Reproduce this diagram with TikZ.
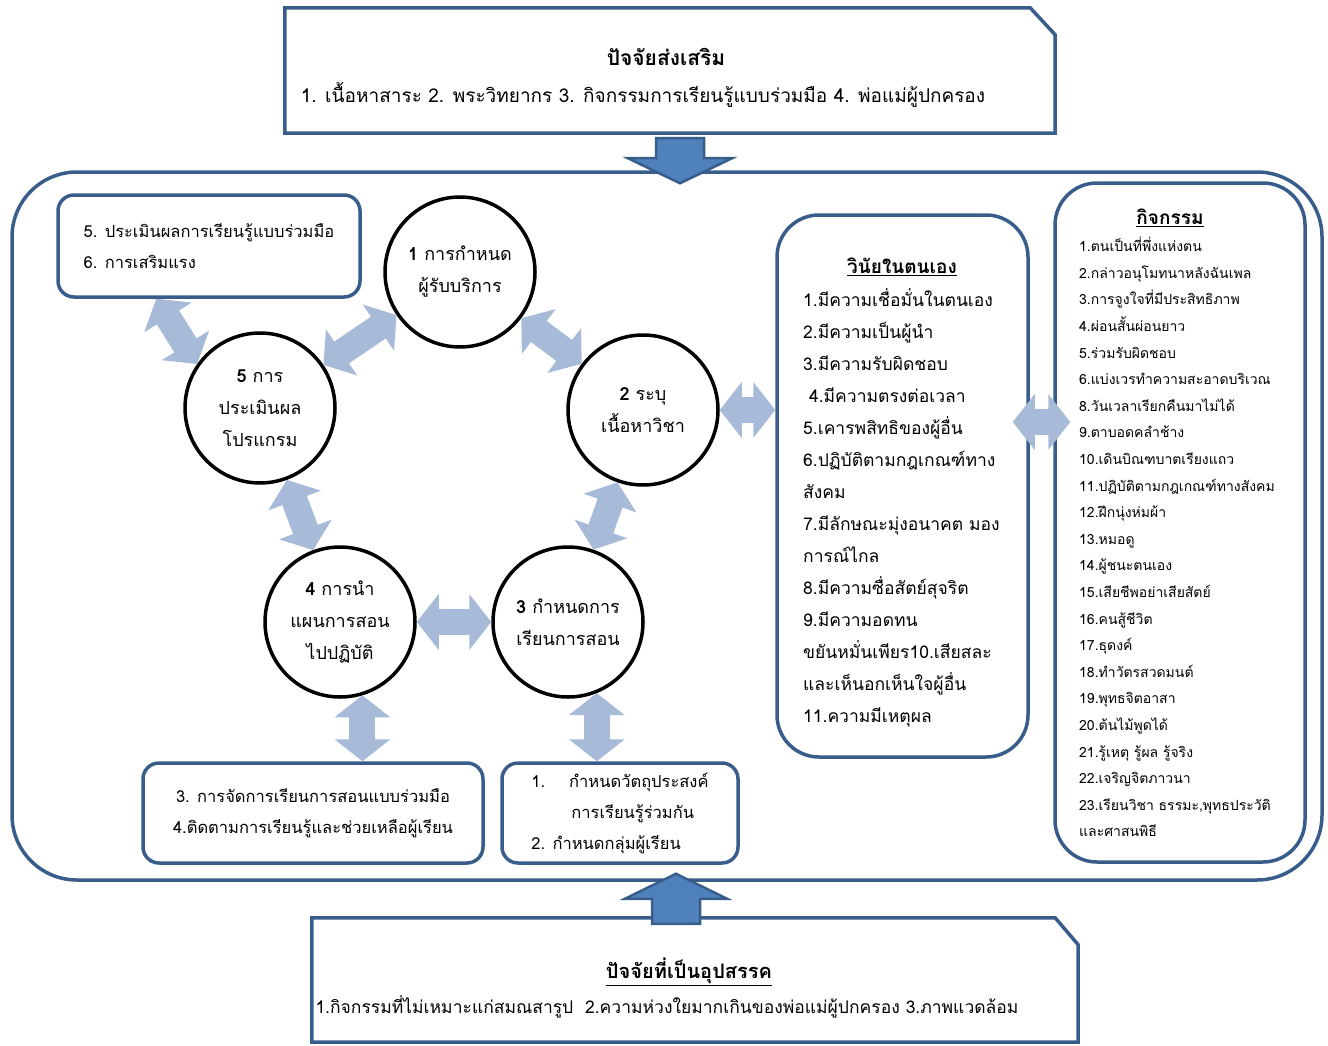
\documentclass[tikz,border=0pt]{standalone}
\usepackage{fontspec}
\newfontfamily\thaifont[Script=Thai]{Loma}
\usepackage{tikz}
\usetikzlibrary{arrows.meta,positioning}
\definecolor{corborda}{RGB}{56,93,138}
\definecolor{corbloco}{RGB}{79,129,189}
\definecolor{corseta}{RGB}{167,186,216}

\begin{document}
\begin{tikzpicture}[
  x=1pt, y=-1pt,
  anelfmt/.style={draw=corborda, line width=3.5pt, rounded corners=65pt,
                  minimum width=1310pt, minimum height=708pt},
  quadro/.style={draw=corborda, line width=3.5pt, rounded corners=16pt, fill=white,
                 inner sep=0pt, font=\thaifont\fontsize{16.5}{31}\selectfont},
  coluna/.style={draw=corborda, line width=3.5pt, rounded corners=42pt, fill=white},
  fator/.style={minimum width=770pt, minimum height=125pt, inner sep=0pt},
  borda/.style={draw=corborda, line width=3.5pt},
  etapa/.style={circle, draw=black, line width=3.5pt, minimum size=150pt, fill=white,
                inner sep=0pt, align=center, font=\thaifont\fontsize{18}{32}\selectfont},
  titulo/.style={inner sep=0pt, font=\thaifont\bfseries\fontsize{19}{24}\selectfont},
  lista/.style={inner sep=0pt, align=left},
  setadupla/.style={draw=corseta, line width=26pt,
                    {Triangle[length=22pt,width=56pt,line width=0pt]}-{Triangle[length=22pt,width=56pt,line width=0pt]},
                    postaction={draw=corseta, line width=26pt, -, shorten <=18pt, shorten >=18pt}},
  setabloco/.style={draw=corborda, fill=corbloco, line width=2.5pt, line join=miter}
]
  \useasboundingbox (0,0) rectangle (1328,1046);

  % moldura grande
  \node[anelfmt] (anel) at (667,526) {};

  % fatores de fora
  \node[fator] (apoio) at (670,70.5) {};
  \draw[borda] (apoio.south west) -- (apoio.north west) -- ([shift={(-25,0)}]apoio.north east)
    -- ([shift={(0,27)}]apoio.north east) -- (apoio.south east) -- cycle;
  \node[titulo, font=\thaifont\bfseries\fontsize{21}{24}\selectfont] (apoiotit) at (666,57) {ปัจจัยส่งเสริม};
  \node[lista, font=\thaifont\fontsize{19}{24}\selectfont] (apoioitens) at (643,95)
    {1. เนื้อหาสาระ 2. พระวิทยากร 3. กิจกรรมการเรียนรู้แบบร่วมมือ 4. พ่อแม่ผู้ปกครอง};

  \node[fator, minimum width=766pt, minimum height=124pt] (obstaculo) at (695,980) {};
  \draw[borda] (obstaculo.south west) -- (obstaculo.north west) -- ([shift={(-23,0)}]obstaculo.north east)
    -- ([shift={(0,27)}]obstaculo.north east) -- (obstaculo.south east) -- cycle;
  \node[titulo, font=\thaifont\bfseries\fontsize{20}{24}\selectfont] (obstaculotit) at (689,972) {\underline{ปัจจัยที่เป็นอุปสรรค}};
  \node[lista, font=\thaifont\fontsize{17.5}{24}\selectfont] (obstaculoitens) at (667,1007)
    {1.กิจกรรมที่ไม่เหมาะแก่สมณสารูป\ \ 2.ความห่วงใยมากเกินของพ่อแม่ผู้ปกครอง 3.ภาพแวดล้อม};

  % caixas de apoio
  \node[quadro, minimum width=302pt, minimum height=102pt, align=left] (avaliacao) at (209,246)
    {5. ประเมินผลการเรียนรู้แบบร่วมมือ\\6. การเสริมแรง};
  \node[quadro, minimum width=340pt, minimum height=100pt, align=center] (gestao) at (313,813)
    {3. การจัดการเรียนการสอนแบบร่วมมือ\\4.ติดตามการเรียนรู้และช่วยเหลือผู้เรียน};
  \node[quadro, minimum width=236pt, minimum height=100pt, align=left] (metas) at (620,813)
    {1.\hspace{24pt}กำหนดวัตถุประสงค์\\\hspace{40pt}การเรียนรู้ร่วมกัน\\2. กำหนดกลุ่มผู้เรียน};

  % ciclo
  \node[etapa] (e1) at (460,272) {\textbf{1} การกำหนด\\ผู้รับบริการ};
  \node[etapa] (e2) at (643,410) {\textbf{2} ระบุ\\เนื้อหาวิชา};
  \node[etapa] (e3) at (568,622) {\textbf{3} กำหนดการ\\เรียนการสอน};
  \node[etapa] (e4) at (340,622) {\textbf{4} การนำ\\แผนการสอน\\ไปปฏิบัติ};
  \node[etapa] (e5) at (260,408) {\textbf{5} การ\\ประเมินผล\\โปรแกรม};

  % colunas
  \node[coluna, minimum width=251pt, minimum height=542pt] (disciplina) at (902.5,486) {};
  \node[titulo] (disciplinatit) at (902,267) {\underline{วินัยในตนเอง}};
  \node[lista, anchor=north west, font=\thaifont\fontsize{17.5}{32}\selectfont] (disciplinaitens) at (803,288)
    {1.มีความเชื่อมั่นในตนเอง\\
     2.มีความเป็นผู้นำ\\
     3.มีความรับผิดชอบ\\
     \ 4.มีความตรงต่อเวลา\\
     5.เคารพสิทธิของผู้อื่น\\
     6.ปฏิบัติตามกฎเกณฑ์ทาง\\
     สังคม\\
     7.มีลักษณะมุ่งอนาคต มอง\\
     การณ์ไกล\\
     8.มีความซื่อสัตย์สุจริต\\
     9.มีความอดทน\\
     ขยันหมั่นเพียร10.เสียสละ\\
     และเห็นอกเห็นใจผู้อื่น\\
     11.ความมีเหตุผล};

  \node[coluna, minimum width=250pt, minimum height=679pt] (atividades) at (1180,522.5) {};
  \node[titulo] (atividadestit) at (1170,218) {\underline{กิจกรรม}};
  \node[lista, anchor=north west, font=\thaifont\fontsize{14}{26.6}\selectfont] (atividadesitens) at (1079,237)
    {1.ตนเป็นที่พึ่งแห่งตน\\
     2.กล่าวอนุโมทนาหลังฉันเพล\\
     3.การจูงใจที่มีประสิทธิภาพ\\
     4.ผ่อนสั้นผ่อนยาว\\
     5.ร่วมรับผิดชอบ\\
     6.แบ่งเวรทำความสะอาดบริเวณ\\
     8.วันเวลาเรียกคืนมาไม่ได้\\
     9.ตาบอดคลำช้าง\\
     10.เดินบิณฑบาตเรียงแถว\\
     11.ปฏิบัติตามกฎเกณฑ์ทางสังคม\\
     12.ฝึกนุ่งห่มผ้า\\
     13.หมอดู\\
     14.ผู้ชนะตนเอง\\
     15.เสียชีพอย่าเสียสัตย์\\
     16.คนสู้ชีวิต\\
     17.ธุดงค์\\
     18.ทำวัตรสวดมนต์\\
     19.พุทธจิตอาสา\\
     20.ต้นไม้พูดได้\\
     21.รู้เหตุ รู้ผล รู้จริง\\
     22.เจริญจิตภาวนา\\
     23.เรียนวิชา ธรรมะ,พุทธประวัติ\\
     และศาสนพิธี};

  % setas
  \draw[setabloco] ([shift={(13,13)}]anel.north) -- ++(-52,-25) -- ++(28,0) -- ++(0,-20)
    -- ++(48,0) -- ++(0,20) -- ++(28,0) -- cycle;
  \draw[setabloco] ([shift={(9,-8)}]anel.south) -- ++(51,25) -- ++(-27,0) -- ++(0,25)
    -- ++(-48,0) -- ++(0,-25) -- ++(-27,0) -- cycle;

  \draw[setadupla] ([shift={(100,0)}]avaliacao.south west) -- (e5.145);
  \draw[setadupla] (e5) -- (e1);
  \draw[setadupla] (e1) -- (e2);
  \draw[setadupla] (e2) -- (e3);
  \draw[setadupla] (e5) -- (e4);
  \draw[setadupla] (e4) -- (e3);
  \draw[setadupla] (e2.east) -- (e2.east -| disciplina.west);
  \draw[setadupla] (e4.-73) -- (e4.-73 |- gestao.north);
  \draw[setadupla] (e3.-68) -- (e3.-68 |- metas.north);
  \coordinate (ponte) at ([shift={(-17,-64)}]disciplina.east);
  \coordinate (ponteb) at (ponte -| atividades.west);
  \draw[setadupla] (ponte) -- ([shift={(17,0)}]ponteb);
\end{tikzpicture}
\end{document}
